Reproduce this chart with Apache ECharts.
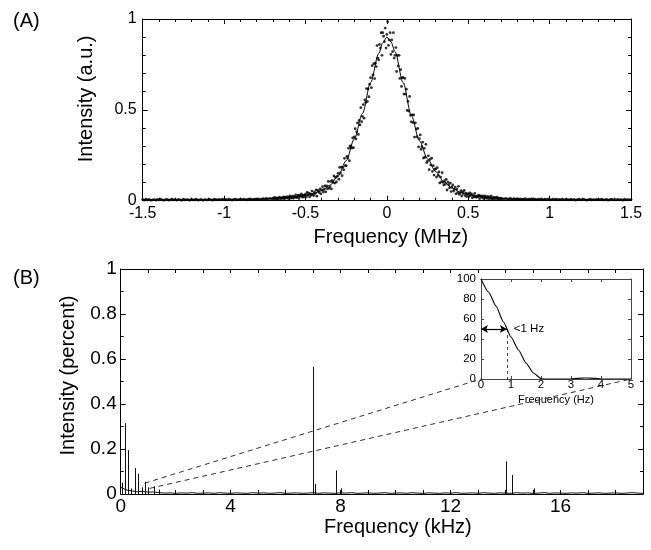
<!DOCTYPE html>
<html><head><meta charset="utf-8">
<script src="https://cdn.jsdelivr.net/npm/echarts@6/dist/echarts.min.js"></script>
<style>html,body{margin:0;padding:0;background:#fff}#c{width:651px;height:550px}</style>
</head><body><div id="c"></div>
<script>
// ---------- Panel A : spectrum (MHz) ----------
const aTicksX = [-1.5, 1.5, 0.5];      // min, max, interval
const aTicksY = [0, 1, 0.5];
// measured points, central region sampled every 0.005 MHz starting at -0.70
const aCoreStart = -0.70, aCoreStep = 0.005;
const aCoreY = [
0.014,0.008,0.018,0.012,0.016,0.008,0.014,0.011,0.020,0.013,
0.011,0.017,0.014,0.021,0.008,0.020,0.018,0.015,0.022,0.012,
0.020,0.026,0.014,0.019,0.025,0.013,0.024,0.018,0.032,0.017,
0.020,0.030,0.012,0.030,0.024,0.037,0.020,0.031,0.020,0.031,
0.036,0.021,0.045,0.031,0.042,0.021,0.037,0.030,0.053,0.035,
0.028,0.047,0.039,0.059,0.025,0.057,0.052,0.044,0.065,0.038,
0.060,0.077,0.048,0.062,0.081,0.049,0.081,0.066,0.106,0.068,
0.077,0.106,0.065,0.112,0.101,0.136,0.097,0.128,0.103,0.134,
0.150,0.118,0.183,0.153,0.185,0.138,0.183,0.170,0.233,0.193,
0.193,0.244,0.235,0.289,0.220,0.301,0.298,0.289,0.346,0.292,
0.351,0.396,0.340,0.379,0.428,0.365,0.442,0.417,0.512,0.435,
0.464,0.529,0.454,0.555,0.540,0.617,0.546,0.615,0.572,0.641,
0.677,0.622,0.743,0.692,0.754,0.672,0.757,0.738,0.854,0.785,
0.775,0.860,0.840,0.925,0.800,0.925,0.905,0.875,0.950,0.840,
0.915,0.985,0.855,0.885,0.925,0.805,0.885,0.820,0.925,0.785,
0.800,0.843,0.711,0.799,0.742,0.800,0.673,0.721,0.629,0.677,
0.677,0.587,0.673,0.587,0.614,0.497,0.547,0.493,0.574,0.470,
0.434,0.472,0.430,0.472,0.350,0.428,0.394,0.352,0.398,0.296,
0.341,0.362,0.282,0.297,0.322,0.235,0.288,0.239,0.310,0.209,
0.218,0.247,0.171,0.227,0.196,0.234,0.161,0.193,0.141,0.173,
0.175,0.130,0.182,0.139,0.158,0.098,0.130,0.104,0.154,0.101,
0.087,0.110,0.092,0.117,0.059,0.102,0.088,0.071,0.097,0.050,
0.075,0.087,0.053,0.062,0.075,0.038,0.064,0.044,0.079,0.035,
0.042,0.055,0.026,0.050,0.039,0.056,0.028,0.042,0.023,0.037,
0.038,0.023,0.043,0.029,0.037,0.016,0.029,0.021,0.040,0.022,
0.019,0.027,0.022,0.031,0.011,0.027,0.023,0.017,0.027,0.011,
0.021,0.026,0.013,0.017,0.023,0.009,0.020,0.013,0.026,0.010,
0.013,0.019,0.007,0.017,0.013,0.020,0.009,0.015,0.007,0.013,
0.012];
// wings sampled every 0.01 MHz
const aWingStep = 0.01;
const aLeftStart = -1.50;
const aLeftY = [
0.006,0.003,0.008,0.004,0.007,0.002,0.005,0.006,0.003,0.007,
0.004,0.008,0.005,0.002,0.006,0.007,0.003,0.005,0.008,0.004,
0.006,0.003,0.007,0.005,0.002,0.008,0.004,0.006,0.005,0.003,
0.007,0.004,0.006,0.008,0.003,0.005,0.007,0.002,0.006,0.005,
0.004,0.007,0.005,0.003,0.008,0.006,0.004,0.007,0.005,0.009,
0.005,0.007,0.004,0.008,0.006,0.003,0.007,0.009,0.005,0.006,
0.008,0.005,0.009,0.006,0.004,0.008,0.010,0.006,0.007,0.009,
0.007,0.010,0.006,0.009,0.011,0.008,0.012,0.009,0.013,0.010];
const aRightStart = 0.71;
const aRightY = [
0.011,0.009,0.013,0.008,0.010,0.012,0.007,0.011,0.009,0.010,
0.008,0.010,0.007,0.009,0.011,0.006,0.009,0.008,0.010,0.007,
0.009,0.006,0.008,0.007,0.010,0.005,0.008,0.006,0.009,0.007,
0.005,0.008,0.006,0.009,0.004,0.007,0.006,0.008,0.005,0.007,
0.006,0.004,0.008,0.005,0.007,0.003,0.006,0.008,0.005,0.006,
0.007,0.005,0.003,0.006,0.008,0.004,0.006,0.005,0.007,0.004,
0.006,0.008,0.004,0.005,0.007,0.003,0.006,0.008,0.005,0.006,
0.004,0.007,0.005,0.006,0.003,0.008,0.005,0.006,0.004,0.006];
// fitted curve
const aFitX = [-1.5,-1.2,-1.0,-0.8,-0.7,-0.6,-0.55,-0.5,-0.45,-0.4,-0.35,-0.3,-0.25,-0.2,-0.15,-0.1,-0.05,-0.025,0,0.025,0.05,0.1,0.15,0.2,0.25,0.3,0.35,0.4,0.45,0.5,0.55,0.6,0.7,0.8,1.0,1.2,1.5];
const aFitY = [0.004,0.005,0.006,0.008,0.012,0.018,0.023,0.030,0.040,0.055,0.085,0.135,0.22,0.34,0.48,0.65,0.81,0.87,0.90,0.875,0.82,0.65,0.47,0.33,0.23,0.16,0.105,0.07,0.047,0.033,0.025,0.019,0.012,0.008,0.006,0.005,0.004];

// ---------- Panel B : FFT (kHz) ----------
const bTicksX = [0, 19, 1];
const bTicksY = [0, 1, 0.2];
const bSpikeKHz = [0.03,0.14,0.17,0.27,0.38,0.52,0.64,0.78,0.88,0.98,1.20,1.38,7.00,7.08,7.82,8.02,14.00,14.24,15.04];
const bSpikeVal = [0.05,0.315,0.17,0.195,0.025,0.115,0.09,0.03,0.055,0.03,0.035,0.02,0.565,0.045,0.105,0.025,0.145,0.085,0.025];
const bNoiseStart = 0, bNoiseStep = 0.2;
const bNoiseY = [
0.030,0.018,0.014,0.010,0.012,0.008,0.009,0.006,0.004,0.005,
0.003,0.005,0.004,0.006,0.003,0.004,0.005,0.003,0.006,0.004,
0.003,0.005,0.004,0.003,0.006,0.004,0.005,0.003,0.004,0.006,
0.003,0.004,0.005,0.003,0.004,0.006,0.003,0.005,0.004,0.003,
0.005,0.004,0.006,0.003,0.004,0.005,0.003,0.004,0.006,0.003,
0.004,0.005,0.003,0.006,0.004,0.003,0.005,0.004,0.003,0.005,
0.004,0.006,0.003,0.004,0.005,0.003,0.006,0.004,0.003,0.005,
0.004,0.003,0.006,0.004,0.005,0.003,0.004,0.006,0.003,0.005,
0.004,0.003,0.005,0.004,0.006,0.003,0.004,0.005,0.003,0.004,
0.005,0.003,0.004,0.006,0.004,0.003];
// zoom guide lines [x1,y1,x2,y2] in kHz / percent
const bGuideUpper = [0.87, 0.048, 13.1, 0.511];
const bGuideLower = [1.05, 0.025, 18.56, 0.511];

// ---------- Inset : low frequency (Hz) ----------
const iTicksX = [0, 5, 1];
const iTicksY = [0, 100, 20];
const iX = [0,0.25,0.5,0.75,1.0,1.25,1.5,1.75,2.0,2.1,2.5,3.0,3.2,3.5,3.8,4.0,4.5,5.0];
const iY = [100,87,73,57,42,29,16,6,0.5,0,0,0,0.6,1,0.6,0,0,0];
const iHalfX = 0.86, iHalfY = 50;
const iHalfText = '<1 Hz';

// ---------- build ----------
const FONT = 'Liberation Sans, Arial, Helvetica, sans-serif';
const r3 = v => Math.round(v * 1000) / 1000;
const aScatter = [];
aLeftY.forEach((y, i) => aScatter.push([r3(aLeftStart + i * aWingStep), y]));
aCoreY.forEach((y, i) => aScatter.push([r3(aCoreStart + i * aCoreStep), y]));
aRightY.forEach((y, i) => aScatter.push([r3(aRightStart + i * aWingStep), y]));
const aFit = aFitX.map((x, i) => [x, aFitY[i]]);
const bSpikes = bSpikeKHz.map((x, i) => [x, bSpikeVal[i]]);
const bNoise = bNoiseY.map((y, i) => [r3(bNoiseStart + i * bNoiseStep), y]);
const iCurve = iX.map((x, i) => [x, iY[i]]);

function axis(kind, grid, pos, t, o) {
  o = o || {};
  const showLabel = !!o.label;
  return Object.assign({
    type: 'value', gridIndex: grid, position: pos,
    min: t[0], max: t[1], interval: t[2],
    axisLine: { show: true, onZero: false, lineStyle: { color: o.lineColor || '#000', width: 1 } },
    axisTick: { show: true, inside: true, length: o.tickLen || 5, lineStyle: { color: o.lineColor || '#000' } },
    minorTick: o.minor ? { show: true, splitNumber: o.minor, length: o.minorLen || 3, lineStyle: { color: o.lineColor || '#000' } } : { show: false },
    splitLine: { show: false },
    axisLabel: showLabel ? Object.assign({ show: true, color: '#000', fontFamily: FONT, fontSize: o.fontSize || 16, margin: o.margin == null ? 4 : o.margin }, o.labelExtra || {}) : { show: false }
  }, o.name ? {
    name: o.name, nameLocation: 'middle', nameGap: o.nameGap,
    nameTextStyle: Object.assign({ color: '#000', fontFamily: FONT, fontSize: o.nameSize || 20 }, o.nameExtra || {})
  } : {});
}

const chart = echarts.init(document.getElementById('c'), null, { renderer: 'canvas' });
chart.setOption({
  animation: false,
  backgroundColor: '#fff',
  grid: [
    { left: 142.7, top: 19, width: 488.3, height: 181.7 },
    { left: 120.7, top: 269, width: 522.3, height: 225 },
    { left: 481, top: 279, width: 150, height: 100, show: true, backgroundColor: '#fff', borderWidth: 0 }
  ],
  xAxis: [
    axis('x', 0, 'bottom', aTicksX, { label: true, minor: 5, fontSize: 16, margin: 5, name: 'Frequency (MHz)', nameGap: 27, nameExtra: { padding: [0, 0, 0, 8] } }),
    axis('x', 0, 'top', aTicksX, { minor: 5 }),
    axis('x', 1, 'bottom', bTicksX, { label: true, tickLen: 4, fontSize: 19, margin: 3,
      labelExtra: { formatter: v => (v % 4 === 0 ? String(v) : '') },
      name: 'Frequency (kHz)', nameGap: 23, nameExtra: { padding: [0, 0, 0, 32] } }),
    axis('x', 1, 'top', bTicksX, { tickLen: 4 }),
    axis('x', 2, 'bottom', iTicksX, { label: true, tickLen: 3, fontSize: 11.5, margin: 0, lineColor: '#444', name: 'Frequency (Hz)', nameGap: 15, nameSize: 11 }),
    axis('x', 2, 'top', iTicksX, { tickLen: 3, lineColor: '#444' })
  ],
  yAxis: [
    axis('y', 0, 'left', aTicksY, { label: true, minor: 5, fontSize: 16, margin: 6, name: 'Intensity (a.u.)', nameGap: 46, nameExtra: { padding: [0, 0, 0, 22] } }),
    axis('y', 0, 'right', aTicksY, { minor: 5 }),
    axis('y', 1, 'left', bTicksY, { label: true, minor: 2, tickLen: 5, fontSize: 19, margin: 4, name: 'Intensity (percent)', nameGap: 42, nameExtra: { padding: [0, 0, 0, 12] } }),
    axis('y', 1, 'right', bTicksY, { minor: 2, tickLen: 5 }),
    axis('y', 2, 'left', iTicksY, { label: true, tickLen: 3, fontSize: 11.5, margin: 5, lineColor: '#444' }),
    axis('y', 2, 'right', iTicksY, { tickLen: 3, lineColor: '#444' })
  ],
  series: [
    { type: 'scatter', xAxisIndex: 0, yAxisIndex: 0, data: aScatter, symbol: 'circle', symbolSize: 2.8,
      itemStyle: { color: '#000' }, silent: true, z: 2 },
    { type: 'line', xAxisIndex: 0, yAxisIndex: 0, data: aFit, showSymbol: false, symbol: 'none', smooth: 0.3, smoothMonotone: 'x',
      lineStyle: { color: '#000', width: 1 }, silent: true, z: 3 },
    { type: 'custom', xAxisIndex: 2, yAxisIndex: 2, data: bSpikes, silent: true, z: 3,
      renderItem: function (params, api) {
        const p0 = api.coord([api.value(0), 0]);
        const p1 = api.coord([api.value(0), api.value(1)]);
        const x = Math.round(p0[0]) + 0.5;
        return { type: 'line', shape: { x1: x, y1: p0[1], x2: x, y2: p1[1] }, style: { stroke: '#111', lineWidth: 1 } };
      } },
    { type: 'line', xAxisIndex: 2, yAxisIndex: 2, data: bNoise, symbol: 'none', showSymbol: false,
      lineStyle: { color: '#111', width: 1 }, silent: true, z: 3,
      markLine: { silent: true, symbol: ['none', 'none'], label: { show: false },
        lineStyle: { color: '#333', width: 1, type: [5, 4] },
        data: [
          [{ coord: [bGuideUpper[0], bGuideUpper[1]] }, { coord: [bGuideUpper[2], bGuideUpper[3]] }],
          [{ coord: [bGuideLower[0], bGuideLower[1]] }, { coord: [bGuideLower[2], bGuideLower[3]] }]
        ] } },
    { type: 'line', xAxisIndex: 4, yAxisIndex: 4, data: iCurve, symbol: 'none', showSymbol: false, smooth: 0.2, smoothMonotone: 'x',
      lineStyle: { color: '#111', width: 1.2 }, silent: true, z: 5,
      markLine: { silent: true, symbol: ['arrow', 'arrow'], symbolSize: [6, 7], label: { show: false },
        lineStyle: { color: '#000', width: 1.2, type: 'solid' },
        data: [
          [{ coord: [0, iHalfY], symbol: 'arrow' }, { coord: [iHalfX, iHalfY], symbol: 'arrow' }],
          [{ coord: [iHalfX, iHalfY], symbol: 'none', lineStyle: { type: [3, 3], color: '#444', width: 1 } }, { coord: [iHalfX, 0], symbol: 'none' }]
        ] },
      markPoint: { silent: true, symbol: 'circle', symbolSize: 0,
        data: [{ coord: [iHalfX, iHalfY], label: { show: true, position: 'right', distance: 7, formatter: iHalfText, color: '#000', fontFamily: FONT, fontSize: 11.5 } }] } }
  ],
  graphic: [
    { type: 'text', left: 13, top: 11, style: { text: '(A)', fontSize: 20, fontFamily: FONT, fill: '#000' } },
    { type: 'text', left: 13, top: 268, style: { text: '(B)', fontSize: 20, fontFamily: FONT, fill: '#000' } }
  ]
});
</script></body></html>
